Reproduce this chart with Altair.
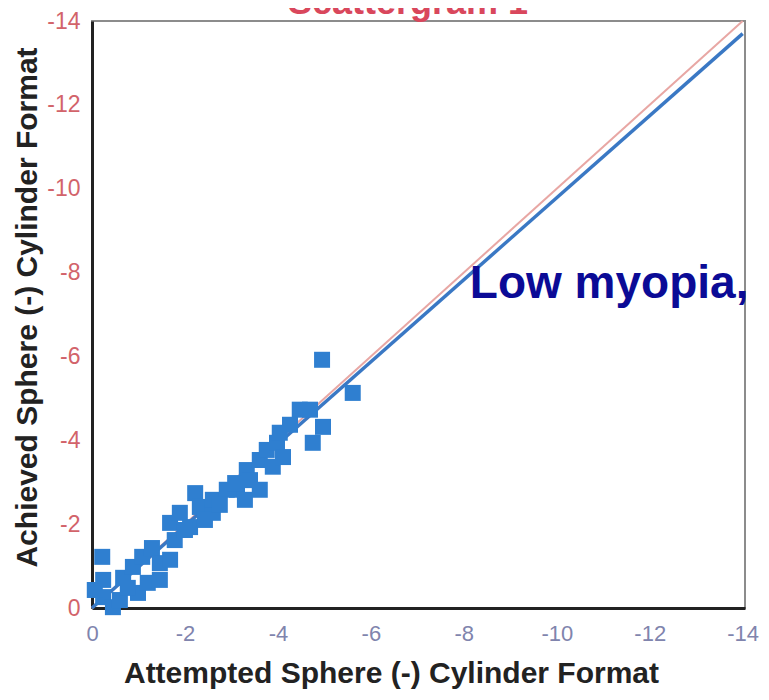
import altair as alt
import pandas as pd

# Scatter data (Attempted vs Achieved, sphere (-) cylinder format, dioptres)
attempted = [-0.22, -0.24, -0.24, -0.45, -0.67, -0.88, -0.99, -1.08, -1.20, -1.29,
             -1.46, -1.46, -1.68, -1.68, -1.89, -2.11, -2.22, -2.32, -2.60, -2.60,
             -2.90, -3.12, -3.33, -3.61, -3.61, -3.76, -3.89, -3.98, -4.04, -4.11,
             -4.47, -4.69, -4.75, -4.97, -4.95, -5.61, -0.06, -0.60, -0.77, -1.78,
             -2.00, -2.43, -2.75, -3.08, -3.40, -4.26, -3.29]
achieved = [-1.22, -0.67, -0.26, -0.02, -0.72, -0.98, -0.36, -1.22, -0.60, -1.43,
            -0.67, -1.07, -1.15, -2.03, -2.27, -1.93, -2.74, -2.41, -2.27, -2.58,
            -2.82, -2.82, -3.29, -2.82, -3.53, -3.77, -3.37, -3.94, -4.18, -3.60,
            -4.73, -4.73, -3.94, -4.32, -5.92, -5.13, -0.43, -0.19, -0.48, -1.62,
            -1.86, -2.10, -2.46, -2.98, -3.05, -4.37, -2.58]

# Reference lines: ideal (y = x) and fitted regression
ideal_x = [0, -14]
ideal_y = [0, -14]
fit_x = [0, -14]
fit_y = [0, -13.7]

ticks = [0, -2, -4, -6, -8, -10, -12, -14]

note_text = ["Low myopia,"]
note_x = [-8.13]
note_y = [-7.4]

title_text = ["Scattergram 1"]

pts = pd.DataFrame({"x": attempted, "y": achieved})
ideal = pd.DataFrame({"x": ideal_x, "y": ideal_y})
fit = pd.DataFrame({"x": fit_x, "y": fit_y})
note = pd.DataFrame({"x": note_x, "y": note_y, "t": note_text})
ttl = pd.DataFrame({"t": title_text})

FONT = "Liberation Sans, Arial, sans-serif"

xs = alt.Scale(domain=[0, -14.05], nice=False, zero=False)
ys = alt.Scale(domain=[0, -14], nice=False, zero=False)

xaxis = alt.Axis(values=ticks, grid=False, ticks=False, labelColor="#8084ad",
                 labelFontSize=22, labelFont=FONT, labelPadding=15,
                 labelExpr="'' + datum.value",
                 title="Attempted Sphere (-) Cylinder Format", titleFontSize=30,
                 titleFont=FONT, titleFontWeight="bold", titleColor="#222222",
                 titlePadding=14, titleX=299, titleAlign="center",
                 domainColor="#222222", domainWidth=3,
                 labelFlush=False)
yaxis = alt.Axis(values=ticks, grid=False, ticks=False, labelColor="#d2636a",
                 labelFontSize=23, labelFont=FONT, labelPadding=12,
                 labelExpr="'' + datum.value",
                 title="Achieved Sphere (-) Cylinder Format", titleFontSize=30,
                 titleFont=FONT, titleFontWeight="bold", titleColor="#222222",
                 titlePadding=4, titleY=286, titleAlign="center",
                 domainColor="#222222", domainWidth=3,
                 labelFlush=False)

ideal_line = alt.Chart(ideal).mark_line(color="#e8a7a4", strokeWidth=2).encode(
    x=alt.X("x:Q", scale=xs, axis=xaxis),
    y=alt.Y("y:Q", scale=ys, axis=yaxis),
)
fit_line = alt.Chart(fit).mark_line(color="#3a78c4", strokeWidth=3.5).encode(
    x=alt.X("x:Q", scale=xs),
    y=alt.Y("y:Q", scale=ys),
)
points = alt.Chart(pts).mark_square(size=256, color="#2f7fd0", opacity=1,
                                    strokeWidth=0).encode(
    x=alt.X("x:Q", scale=xs),
    y=alt.Y("y:Q", scale=ys),
)
label = alt.Chart(note).mark_text(align="left", baseline="alphabetic",
                                  fontSize=46, fontWeight="bold",
                                  font=FONT, color="#0b0b96").encode(
    x=alt.X("x:Q", scale=xs),
    y=alt.Y("y:Q", scale=ys),
    text="t:N",
)
title_mark = alt.Chart(ttl).mark_text(align="center", baseline="alphabetic",
                                      fontSize=36, fontWeight="bold",
                                      font=FONT, color="#d9475c").encode(
    x=alt.value(316),
    y=alt.value(-7),
    text="t:N",
)

chart = alt.layer(ideal_line, fit_line, points, label, title_mark).properties(
    width=653,
    height=587,
    autosize=alt.AutoSizeParams(type="none"),
    padding={"left": 84, "top": 13, "right": 16, "bottom": 90},
    background="white",
).configure_view(stroke="#8c8c8c", strokeWidth=2)

chart.save("out.html", embed_options={"renderer": "svg", "actions": False})
